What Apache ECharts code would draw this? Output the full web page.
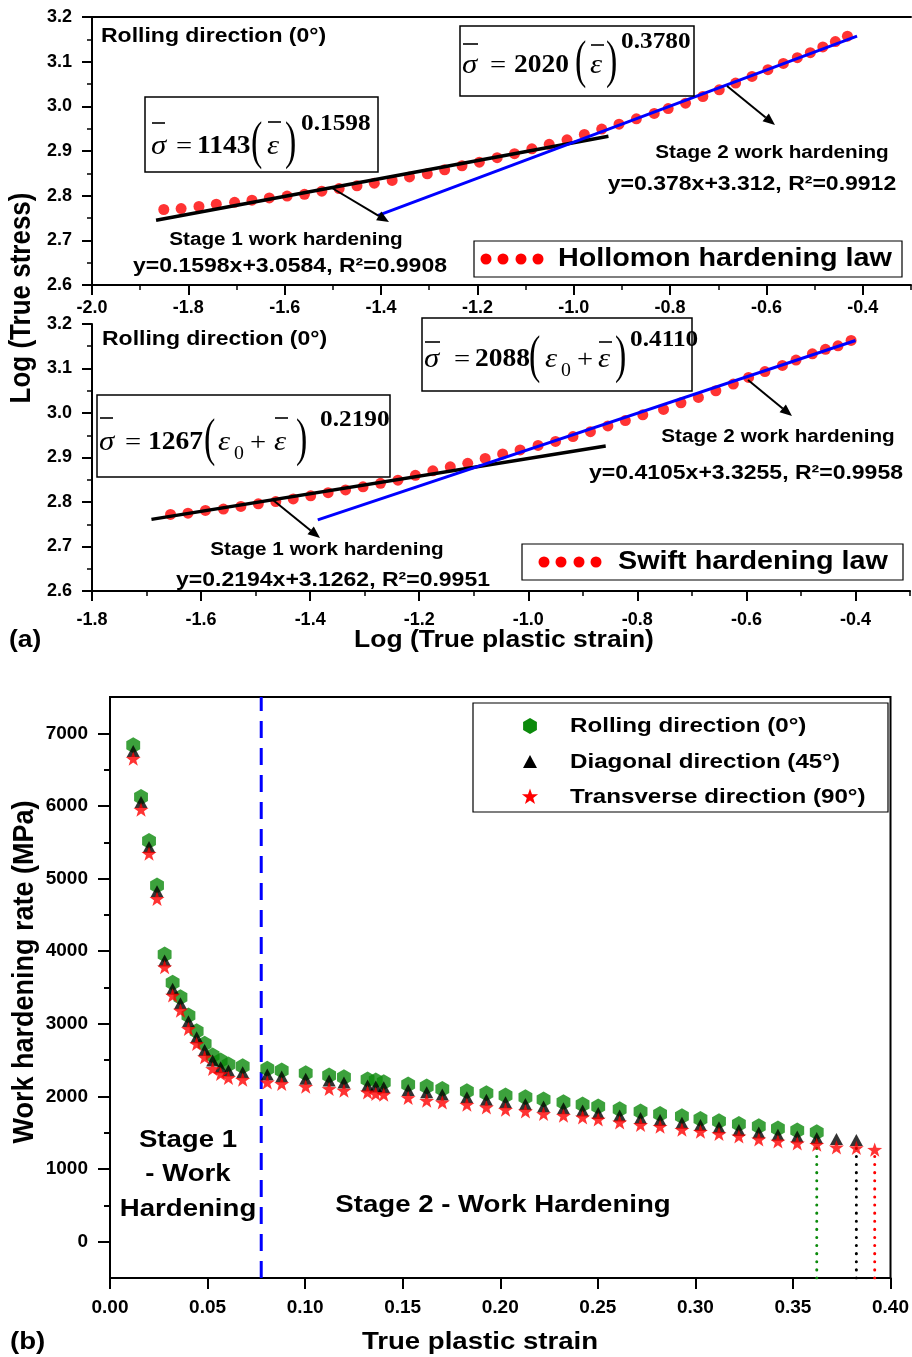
<!DOCTYPE html>
<html><head><meta charset="utf-8">
<script src="https://cdn.jsdelivr.net/npm/echarts@6/dist/echarts.min.js"></script>
<style>html,body{margin:0;padding:0;background:#fff}#c{width:912px;height:1357px}</style>
</head><body><div id="c"></div>
<script>
// ---------- Panel (a) top: Hollomon ----------
const hollomonLogStrain = [-1.851,-1.815,-1.778,-1.742,-1.704,-1.668,-1.632,-1.595,-1.559,-1.523,-1.487,-1.450,-1.414,-1.377,-1.341,-1.304,-1.268,-1.232,-1.196,-1.159,-1.123,-1.087,-1.051,-1.014,-0.978,-0.942,-0.906,-0.870,-0.833,-0.804,-0.768,-0.732,-0.698,-0.664,-0.630,-0.597,-0.565,-0.536,-0.509,-0.483,-0.457,-0.432];
const hollomonLogStress = [2.769,2.771,2.776,2.781,2.785,2.790,2.795,2.799,2.803,2.810,2.816,2.822,2.828,2.834,2.842,2.849,2.858,2.867,2.875,2.885,2.894,2.905,2.915,2.925,2.937,2.949,2.960,2.972,2.984,2.995,3.007,3.022,3.037,3.052,3.067,3.082,3.096,3.109,3.120,3.133,3.145,3.157];
const hollStage1FitX = [-1.867, -0.928];
const hollStage1FitY = [2.745, 2.933];
const hollStage2FitX = [-1.406, -0.412];
const hollStage2FitY = [2.756, 3.157];

// ---------- Panel (a) bottom: Swift ----------
const swiftLogStrain = [-1.656,-1.624,-1.592,-1.559,-1.527,-1.495,-1.463,-1.431,-1.399,-1.367,-1.335,-1.303,-1.271,-1.239,-1.207,-1.175,-1.143,-1.111,-1.079,-1.047,-1.015,-0.982,-0.950,-0.918,-0.886,-0.854,-0.822,-0.790,-0.752,-0.720,-0.688,-0.656,-0.624,-0.596,-0.566,-0.534,-0.509,-0.479,-0.455,-0.432,-0.408];
const swiftLogStress = [2.772,2.775,2.781,2.784,2.790,2.796,2.801,2.807,2.814,2.821,2.827,2.834,2.842,2.849,2.860,2.870,2.879,2.887,2.898,2.908,2.917,2.927,2.936,2.947,2.958,2.971,2.983,2.996,3.008,3.023,3.035,3.050,3.065,3.080,3.093,3.107,3.119,3.133,3.143,3.151,3.163];
const swiftStage1FitX = [-1.691, -0.858];
const swiftStage1FitY = [2.761, 2.926];
const swiftStage2FitX = [-1.386, -0.400];
const swiftStage2FitY = [2.760, 3.163];

// tick values for panel (a)
const hollMajorTicks = [-2.0,-1.8,-1.6,-1.4,-1.2,-1.0,-0.8,-0.6,-0.4];
const hollMinorTicks = [-1.9,-1.7,-1.5,-1.3,-1.1,-0.9,-0.7,-0.5,-0.3];
const swiftMajorTicks = [-1.8,-1.6,-1.4,-1.2,-1.0,-0.8,-0.6,-0.4];
const swiftMinorTicks = [-1.7,-1.5,-1.3,-1.1,-0.9,-0.7,-0.5,-0.3];

// ---------- Panel (b): work hardening rate ----------
const strainRD = [0.0119,0.0159,0.0200,0.0241,0.0280,0.0321,0.0361,0.0402,0.0444,0.0485,0.0526,0.0567,0.0607,0.0680,0.0806,0.0880,0.1003,0.1123,0.1199,0.1320,0.1362,0.1403,0.1528,0.1623,0.1703,0.1829,0.1929,0.2027,0.2129,0.2222,0.2324,0.2422,0.2502,0.2612,0.2719,0.2819,0.2931,0.3026,0.3121,0.3223,0.3325,0.3423,0.3522,0.3622];
const whrRD = [6835,6122,5516,4906,3955,3565,3367,3114,2898,2724,2563,2494,2439,2416,2380,2356,2319,2287,2264,2232,2219,2195,2163,2136,2104,2071,2044,2012,1989,1957,1920,1888,1860,1823,1791,1759,1727,1691,1658,1622,1589,1557,1530,1506];
const strainDD = [0.0119,0.0159,0.0200,0.0241,0.0280,0.0321,0.0361,0.0402,0.0444,0.0485,0.0526,0.0567,0.0607,0.0680,0.0806,0.0880,0.1003,0.1123,0.1199,0.1320,0.1362,0.1403,0.1528,0.1623,0.1703,0.1829,0.1929,0.2027,0.2129,0.2222,0.2324,0.2422,0.2502,0.2612,0.2719,0.2819,0.2931,0.3026,0.3121,0.3223,0.3325,0.3423,0.3522,0.3622,0.3723,0.3825];
const whrDD = [6756,6054,5433,4827,3872,3482,3284,3036,2815,2641,2494,2402,2356,2333,2301,2274,2242,2219,2191,2150,2136,2126,2090,2057,2026,1989,1953,1920,1897,1860,1837,1805,1773,1736,1704,1677,1636,1608,1575,1539,1502,1474,1447,1429,1415,1401];
const strainTD = [0.0119,0.0159,0.0200,0.0241,0.0280,0.0321,0.0361,0.0402,0.0444,0.0485,0.0526,0.0567,0.0607,0.0680,0.0806,0.0880,0.1003,0.1123,0.1199,0.1320,0.1362,0.1403,0.1528,0.1623,0.1703,0.1829,0.1929,0.2027,0.2129,0.2222,0.2324,0.2422,0.2502,0.2612,0.2719,0.2819,0.2931,0.3026,0.3121,0.3223,0.3325,0.3423,0.3522,0.3622,0.3723,0.3825,0.3919];
const whrTD = [6651,5949,5343,4722,3780,3390,3183,2931,2724,2540,2380,2311,2256,2232,2195,2173,2136,2104,2081,2057,2035,2026,1980,1943,1920,1888,1851,1819,1796,1759,1736,1713,1685,1644,1608,1585,1543,1516,1484,1451,1410,1382,1355,1337,1300,1291,1268];
const stageBoundaryStrain = [0.0775, 0.0775];
const stageBoundaryWhr = [-500, 7500];
const fractureGreenX = [0.3622, 0.3622], fractureGreenY = [-500, 1400];
const fractureBlackX = [0.3825, 0.3825], fractureBlackY = [-500, 1290];
const fractureRedX = [0.3919, 0.3919], fractureRedY = [-500, 1240];
const whrMajorTicks = [0,1000,2000,3000,4000,5000,6000,7000];
const whrMinorTicks = [500,1500,2500,3500,4500,5500,6500];

const legendNamesB = ['Rolling direction (0°)', 'Diagonal direction (45°)', 'Transverse direction (90°)'];

// ---------- helpers ----------
const zip = (xs, ys) => xs.map((x, i) => [x, ys[i]]);
const FONT = "'Liberation Sans', Arial, sans-serif";
const SERIF = "'Liberation Serif', 'Times New Roman', serif";
const SX = 1.15;
const HEX = 'path://M0,-10L8.66,-5L8.66,5L0,10L-8.66,5L-8.66,-5Z';
const STAR = 'path://M0,-10L2.35,-3.24L9.51,-3.09L3.8,1.24L5.88,8.09L0,4L-5.88,8.09L-3.8,1.24L-9.51,-3.09L-2.35,-3.24Z';
const GREEN = '#0b8a0b', RED = '#ff0000', BLUE = '#0000ff';

function txt(text, x, y, size, align, extra) {
  return Object.assign({
    type: 'text', x: x, y: y, scaleX: SX, z: 60,
    style: { text: text, x: 0, y: 0, font: 'bold ' + size + 'px ' + FONT, fill: '#000',
      textAlign: align || 'left', textVerticalAlign: 'middle' }
  }, extra || {});
}
function ftxt(text, x, y, size, weight, sx, sy) {
  return { type: 'text', x: x, y: y, scaleX: sx || 1.1, scaleY: sy || 1, z: 60,
    style: { text: text, x: 0, y: 0, font: weight + ' ' + size + 'px ' + SERIF, fill: '#000',
      textAlign: 'left', textVerticalAlign: 'middle' } };
}
function paren(ch, x, y) { return ftxt(ch, x, y, 34, 'normal', 1, 1.55); }
function box(x, y, w, h, lw) {
  return { type: 'rect', z: 55, shape: { x: x, y: y, width: w, height: h },
    style: { fill: '#fff', stroke: '#000', lineWidth: lw || 1.5 } };
}
function bar(x1, x2, y) {
  return { type: 'line', z: 60, shape: { x1: x1, y1: y, x2: x2, y2: y }, style: { stroke: '#000', lineWidth: 1.6 } };
}
function arrow(x1, y1, x2, y2) {
  const a = Math.atan2(y2 - y1, x2 - x1), L = 12, W = 5;
  const bx = x2 - L * Math.cos(a), by = y2 - L * Math.sin(a);
  return [
    { type: 'line', z: 60, shape: { x1: x1, y1: y1, x2: bx, y2: by }, style: { stroke: '#000', lineWidth: 2 } },
    { type: 'polygon', z: 60, shape: { points: [[x2, y2], [bx + W * Math.sin(a), by - W * Math.cos(a)], [bx - W * Math.sin(a), by + W * Math.cos(a)]] }, style: { fill: '#000' } }
  ];
}
function dot(x, y) { return { type: 'circle', z: 60, shape: { cx: x, cy: y, r: 5.5 }, style: { fill: RED } }; }
function polyAround(cx, cy, pts) { return pts.map(p => [cx + p[0], cy + p[1]]); }

const hexPts = [[0,-8],[6.9,-4],[6.9,4],[0,8],[-6.9,4],[-6.9,-4]];
const triPts = [[0,-7],[7,6],[-7,6]];
const starPts = [[0,-8.5],[2,-2.75],[8.08,-2.63],[3.23,1.05],[5,6.88],[0,3.4],[-5,6.88],[-3.23,1.05],[-8.08,-2.63],[-2,-2.75]];

const g = [];
// Panel (a) top annotations
g.push(txt('Rolling direction (0°)', 101, 36, 20));
g.push(box(145, 97, 233, 75));
g.push(ftxt('σ', 151, 147, 28, 'italic'), bar(152, 165, 123), ftxt('=', 176, 147, 26, 'normal'),
  ftxt('1143', 197, 147, 25, 'bold'), paren('(', 251, 144), ftxt('ε', 267, 147, 28, 'italic'),
  bar(268, 281, 122), paren(')', 285, 144), ftxt('0.1598', 301, 124, 23, 'bold'));
g.push(box(460, 26, 234, 70));
g.push(ftxt('σ', 462, 66, 28, 'italic'), bar(463, 478, 44), ftxt('=', 490, 66, 26, 'normal'),
  ftxt('2020', 514, 66, 25, 'bold'), paren('(', 575, 63), ftxt('ε', 590, 66, 28, 'italic'),
  bar(591, 604, 45), paren(')', 606, 63), ftxt('0.3780', 621, 42, 23, 'bold'));
g.push(txt('Stage 1 work hardening', 286, 240, 18, 'center'));
g.push(txt('y=0.1598x+3.0584, R²=0.9908', 290, 266, 20, 'center'));
g.push(txt('Stage 2 work hardening', 772, 153, 18, 'center'));
g.push(txt('y=0.378x+3.312, R²=0.9912', 752, 184, 20, 'center'));
g.push(...arrow(332, 188, 389, 222), ...arrow(727, 86, 775, 125));
g.push(box(474, 241, 428, 36, 1.2), dot(486, 259), dot(503, 259), dot(521, 259), dot(538, 259));
g.push(txt('Hollomon hardening law', 558, 259, 25));

// Panel (a) bottom annotations
g.push(txt('Rolling direction (0°)', 102, 339, 20));
g.push(box(97, 395, 293, 82));
g.push(ftxt('σ', 99, 443, 28, 'italic'), bar(100, 113, 418), ftxt('=', 125, 443, 26, 'normal'),
  ftxt('1267', 148, 443, 25, 'bold'), paren('(', 204, 441), ftxt('ε', 218, 443, 28, 'italic'),
  ftxt('0', 234, 454, 18, 'normal'), ftxt('+', 250, 443, 26, 'normal'), ftxt('ε', 274, 443, 28, 'italic'),
  bar(275, 288, 418), paren(')', 296, 441), ftxt('0.2190', 320, 420, 23, 'bold'));
g.push(box(422, 318, 270, 73));
g.push(ftxt('σ', 424, 360, 28, 'italic'), bar(425, 440, 342), ftxt('=', 454, 360, 26, 'normal'),
  ftxt('2088', 475, 360, 25, 'bold'), paren('(', 529, 358), ftxt('ε', 545, 360, 28, 'italic'),
  ftxt('0', 561, 371, 18, 'normal'), ftxt('+', 577, 360, 26, 'normal'), ftxt('ε', 598, 360, 28, 'italic'),
  bar(599, 612, 342), paren(')', 615, 358), ftxt('0.4110', 630, 340, 23, 'bold'));
g.push(txt('Stage 1 work hardening', 327, 550, 18, 'center'));
g.push(txt('y=0.2194x+3.1262, R²=0.9951', 333, 580, 20, 'center'));
g.push(txt('Stage 2 work hardening', 778, 437, 18, 'center'));
g.push(txt('y=0.4105x+3.3255, R²=0.9958', 746, 473, 20, 'center'));
g.push(...arrow(273, 500, 320, 538), ...arrow(748, 380, 792, 416));
g.push(box(522, 544, 381, 36, 1.2), dot(544, 562), dot(561, 562), dot(579, 562), dot(596, 562));
g.push(txt('Swift hardening law', 618, 562, 25));

// axis titles for panel (a)
g.push({ type: 'text', x: 22, y: 298, rotation: Math.PI / 2, scaleY: 1.1, z: 60,
  style: { text: 'Log (True stress)', x: 0, y: 0, font: 'bold 26px ' + FONT, fill: '#000', textAlign: 'center', textVerticalAlign: 'middle' } });
g.push(txt('Log (True plastic strain)', 504, 641, 23, 'center'));
g.push(txt('(a)', 9, 641, 23));

// Panel (b) annotations
g.push(txt('Stage 1', 188, 1140, 24, 'center'), txt('- Work', 188, 1174, 24, 'center'), txt('Hardening', 188, 1209, 24, 'center'));
g.push(txt('Stage 2 - Work Hardening', 503, 1205, 24, 'center'));
g.push(box(473, 703, 415, 109, 1.2));
g.push({ type: 'polygon', z: 60, shape: { points: polyAround(530, 726, hexPts) }, style: { fill: GREEN } });
g.push({ type: 'polygon', z: 60, shape: { points: polyAround(530, 762, triPts) }, style: { fill: '#000' } });
g.push({ type: 'polygon', z: 60, shape: { points: polyAround(530, 797, starPts) }, style: { fill: RED } });
g.push(txt(legendNamesB[0], 570, 726, 21), txt(legendNamesB[1], 570, 762, 21), txt(legendNamesB[2], 570, 797, 21));
g.push({ type: 'text', x: 25, y: 972, rotation: Math.PI / 2, scaleY: 1.1, z: 60,
  style: { text: 'Work hardening rate (MPa)', x: 0, y: 0, font: 'bold 27px ' + FONT, fill: '#000', textAlign: 'center', textVerticalAlign: 'middle' } });
g.push(txt('True plastic strain', 480, 1342, 24, 'center'));
g.push(txt('(b)', 10, 1342, 24));

// ---------- axes ----------
const axLine = { show: true, onZero: false, lineStyle: { color: '#000', width: 2 } };
const tickStyle = { color: '#000', width: 2 };
const minorStyle = { color: '#000', width: 1.5 };
const lblA = { color: '#000', fontWeight: 'bold', fontSize: 18, fontFamily: FONT };
const lblB = { color: '#000', fontWeight: 'bold', fontSize: 19, fontFamily: FONT };
const noSplit = { show: false };

function majorX(grid, min, max, ticks, margin) {
  return { gridIndex: grid, type: 'value', position: 'bottom', min: min, max: max, axisLine: axLine,
    axisTick: { inside: false, length: 10, lineStyle: tickStyle, customValues: ticks },
    axisLabel: Object.assign({ margin: margin, customValues: ticks, formatter: v => v.toFixed(1) }, lblA),
    splitLine: noSplit };
}
function minorX(grid, min, max, ticks) {
  return { gridIndex: grid, type: 'value', position: 'bottom', offset: 0, min: min, max: max,
    axisLine: { show: false, onZero: false },
    axisTick: { inside: false, length: 5, lineStyle: minorStyle, customValues: ticks },
    axisLabel: { show: false }, splitLine: noSplit };
}
function logStressY(grid) {
  return { gridIndex: grid, type: 'value', min: 2.6, max: 3.2, interval: 0.1, axisLine: axLine,
    axisTick: { inside: false, length: 10, lineStyle: tickStyle },
    minorTick: { show: true, splitNumber: 2, length: 5, lineStyle: minorStyle },
    axisLabel: Object.assign({ margin: 20, formatter: v => v.toFixed(1) }, lblA), splitLine: noSplit };
}

const option = {
  animation: false,
  backgroundColor: '#fff',
  grid: [
    { left: 92, top: 17, width: 819, height: 268 },
    { left: 92, top: 324, width: 818, height: 267 },
    { left: 110, top: 697, width: 786, height: 581, show: true, borderColor: '#000', borderWidth: 2 }
  ],
  xAxis: [
    majorX(0, -2.0, -0.3, hollMajorTicks, 14),
    minorX(0, -2.0, -0.3, hollMinorTicks),
    { gridIndex: 0, type: 'value', position: 'top', min: -2.0, max: -0.3, axisLine: axLine,
      axisTick: { show: false }, axisLabel: { show: false }, splitLine: noSplit },
    majorX(1, -1.8, -0.3, swiftMajorTicks, 20),
    minorX(1, -1.8, -0.3, swiftMinorTicks),
    { gridIndex: 2, type: 'value', position: 'bottom', min: 0, max: 0.4, interval: 0.05, axisLine: axLine,
      axisTick: { inside: false, length: 11, lineStyle: tickStyle },
      axisLabel: Object.assign({ margin: 20, formatter: v => v.toFixed(2) }, lblB), splitLine: noSplit }
  ],
  yAxis: [
    logStressY(0),
    logStressY(1),
    { gridIndex: 2, type: 'value', position: 'left', min: -500, max: 7500, axisLine: axLine,
      axisTick: { inside: false, length: 12, lineStyle: tickStyle, customValues: whrMajorTicks },
      axisLabel: Object.assign({ margin: 22, customValues: whrMajorTicks, formatter: v => String(v) }, lblB),
      splitLine: noSplit },
    { gridIndex: 2, type: 'value', position: 'left', offset: 0, min: -500, max: 7500,
      axisLine: { show: false, onZero: false },
      axisTick: { inside: false, length: 6, lineStyle: tickStyle, customValues: whrMinorTicks },
      axisLabel: { show: false }, splitLine: noSplit }
  ],
  series: [
    { type: 'scatter', xAxisIndex: 0, yAxisIndex: 0, data: zip(hollomonLogStrain, hollomonLogStress),
      symbol: 'circle', symbolSize: 11, itemStyle: { color: RED }, z: 2 },
    { type: 'line', xAxisIndex: 0, yAxisIndex: 0, data: zip(hollStage1FitX, hollStage1FitY), symbol: 'none',
      lineStyle: { color: '#000', width: 3.5 }, z: 3 },
    { type: 'line', xAxisIndex: 0, yAxisIndex: 0, data: zip(hollStage2FitX, hollStage2FitY), symbol: 'none',
      lineStyle: { color: BLUE, width: 3 }, z: 3 },
    { type: 'scatter', xAxisIndex: 3, yAxisIndex: 1, data: zip(swiftLogStrain, swiftLogStress),
      symbol: 'circle', symbolSize: 11, itemStyle: { color: RED }, z: 2 },
    { type: 'line', xAxisIndex: 3, yAxisIndex: 1, data: zip(swiftStage1FitX, swiftStage1FitY), symbol: 'none',
      lineStyle: { color: '#000', width: 3.5 }, z: 3 },
    { type: 'line', xAxisIndex: 3, yAxisIndex: 1, data: zip(swiftStage2FitX, swiftStage2FitY), symbol: 'none',
      lineStyle: { color: BLUE, width: 3 }, z: 3 },
    { type: 'line', xAxisIndex: 5, yAxisIndex: 2, data: zip(stageBoundaryStrain, stageBoundaryWhr), symbol: 'none',
      lineStyle: { color: BLUE, width: 3, type: [17, 10] }, z: 2 },
    { type: 'line', xAxisIndex: 5, yAxisIndex: 2, data: zip(fractureGreenX, fractureGreenY), symbol: 'none',
      lineStyle: { color: GREEN, width: 3, type: [0.1, 8], cap: 'round' }, z: 2 },
    { type: 'line', xAxisIndex: 5, yAxisIndex: 2, data: zip(fractureBlackX, fractureBlackY), symbol: 'none',
      lineStyle: { color: '#000', width: 3, type: [0.1, 8], cap: 'round' }, z: 2 },
    { type: 'line', xAxisIndex: 5, yAxisIndex: 2, data: zip(fractureRedX, fractureRedY), symbol: 'none',
      lineStyle: { color: RED, width: 3, type: [0.1, 8], cap: 'round' }, z: 2 },
    { name: legendNamesB[0], type: 'scatter', xAxisIndex: 5, yAxisIndex: 2, data: zip(strainRD, whrRD),
      symbol: HEX, symbolSize: 16, symbolKeepAspect: true, itemStyle: { color: GREEN }, z: 4 },
    { name: legendNamesB[1], type: 'scatter', xAxisIndex: 5, yAxisIndex: 2, data: zip(strainDD, whrDD),
      symbol: 'triangle', symbolSize: [13, 12], itemStyle: { color: '#000' }, z: 5 },
    { name: legendNamesB[2], type: 'scatter', xAxisIndex: 5, yAxisIndex: 2, data: zip(strainTD, whrTD),
      symbol: STAR, symbolSize: 15, symbolKeepAspect: true, itemStyle: { color: RED }, z: 6 }
  ],
  graphic: { elements: g }
};

const chart = echarts.init(document.getElementById('c'), null, { renderer: 'canvas' });
chart.setOption(option);
</script>
</body></html>
